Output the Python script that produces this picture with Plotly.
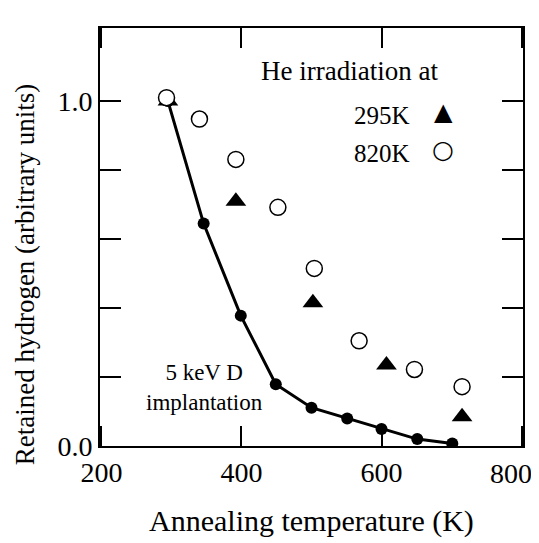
import plotly.graph_objects as go

# 5 keV D implantation, no He (filled circles joined by a line)
t_impl = [295, 346, 399, 449, 500, 551, 600, 651, 701]
h_impl = [1.0, 0.645, 0.378, 0.179, 0.111, 0.080, 0.049, 0.020, 0.007]

# He irradiation at 295K (filled triangles)
t_295 = [295, 392, 502, 607, 715]
h_295 = [1.0, 0.71, 0.415, 0.235, 0.085]

# He irradiation at 820K (open circles)
t_820 = [293, 340, 392, 452, 504, 568, 647, 715]
h_820 = [1.01, 0.948, 0.831, 0.692, 0.515, 0.305, 0.222, 0.172]

x_ticks = [200, 400, 600, 800]
# last label is drawn as a note further down so it can sit inside the page
x_ticktext = ["200", "400", "600", ""]
y_ticks = [0.0, 0.2, 0.4, 0.6, 0.8, 1.0]
y_ticktext = ["0.0", "", "", "", "", "1.0"]

serif = "Liberation Serif, Times New Roman, serif"

fig = go.Figure()

fig.add_trace(go.Scatter(
    x=t_impl, y=h_impl,
    mode="lines+markers",
    line=dict(color="black", width=3),
    marker=dict(symbol="circle", size=12, color="black"),
))
fig.add_trace(go.Scatter(
    x=t_295, y=h_295,
    mode="markers",
    marker=dict(symbol="triangle-up", size=18, color="black"),
))
fig.add_trace(go.Scatter(
    x=t_820, y=h_820,
    mode="markers",
    marker=dict(symbol="circle", size=16, color="white",
                line=dict(color="black", width=1.5)),
))

def note(text, x, y, size, xanchor="center", family=serif, **kw):
    fig.add_annotation(text=text, x=x, y=y, xref="paper", yref="paper",
                       xanchor=xanchor, yanchor="middle", showarrow=False,
                       font=dict(size=size, family=family), **kw)

# legend block in the upper right, as in the original figure
note("He irradiation at", 0.59, 0.897, 27)
note("295K", 0.737, 0.79, 25, xanchor="right")
note("820K", 0.737, 0.70, 25, xanchor="right")
note("\u25B2", 0.811, 0.80, 24, family="DejaVu Sans")
note("\u25CB", 0.811, 0.71, 25, family="DejaVu Sans")

note("5 keV D<br>implantation", 0.248, 0.139, 23)

# "800" tick label, nudged left like in the scan
fig.add_annotation(text=str(x_ticks[-1]), x=x_ticks[-1], y=0, xref="x", yref="paper",
                   xanchor="center", yanchor="top", xshift=-11, yshift=-10,
                   showarrow=False, font=dict(size=28))

# axis titles placed by hand (y title sits a little low in the original)
note("Annealing temperature (K)", 0.5, -0.18, 30)
note("Retained hydrogen (arbitrary units)", -0.178, 0.41, 27, textangle=-90)

# the page body adds 8px on the left and top, so the figure is 8px smaller
fig.update_layout(
    width=531, height=535,
    margin=dict(l=92, r=16, t=20, b=97),
    paper_bgcolor="white", plot_bgcolor="white",
    showlegend=False,
    font=dict(family=serif, color="black"),
)
fig.update_xaxes(
    range=[198, 802], tickvals=x_ticks, ticktext=x_ticktext,
    automargin=False,
    ticks="inside", ticklen=20, tickwidth=2, tickcolor="black",
    showline=True, linewidth=2, linecolor="black", mirror="ticks",
    showgrid=False, zeroline=False, tickfont=dict(size=28),
)
fig.update_yaxes(
    range=[0, 1.212], tickvals=y_ticks, ticktext=y_ticktext,
    automargin=False,
    ticks="inside", ticklen=21, tickwidth=2, tickcolor="black",
    showline=True, linewidth=2, linecolor="black", mirror="ticks",
    showgrid=False, zeroline=False, tickfont=dict(size=28),
)

fig.write_html("out.html")
